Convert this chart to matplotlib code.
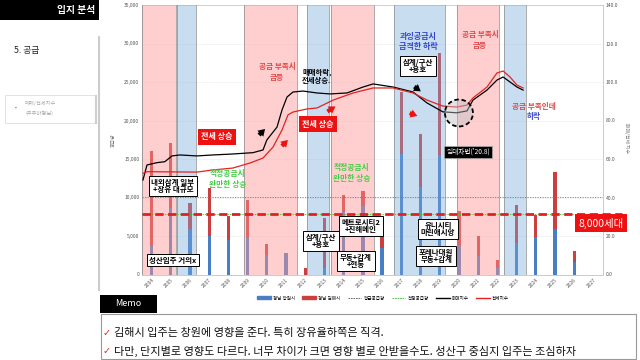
import numpy as np
import matplotlib
matplotlib.use("Agg")
import matplotlib.pyplot as plt
from matplotlib.patches import Rectangle, Ellipse, FancyArrowPatch
from matplotlib.lines import Line2D
from matplotlib.patches import Patch

plt.rcParams['font.family'] = ['Noto Sans CJK KR', 'DejaVu Sans']

# supply data (units), by year
years = list(range(2004, 2028))
total_supply = [16000, 17100, 9300, 11200, 7600, 9700, 3900, 2750, 880, 7400, 10300, 10850,
                5200, 23700, 18300, 28800, 8250, 5000, 1880, 9030, 7730, 13300, 3050, 0]
changwon = [3700, 8600, 5900, 4950, 4480, 4780, 2530, 2750, 0, 850, 8100, 8850,
            3400, 15700, 11400, 15500, 3830, 2400, 890, 4130, 4910, 5870, 1670, 0]
gimhae = [t - c for t, c in zip(total_supply, changwon)]

avg_supply = 10100
opt_supply = 7900

# price index (매매) and jeonse index (전세)
sale_t = [2004.05, 2004.26, 2004.78, 2005.19, 2005.56, 2005.97, 2006.86, 2007.69, 2008.73, 2009.78,
          2010.30, 2010.50, 2011.03, 2011.29, 2011.55, 2011.86, 2012.38, 2013.11, 2013.79, 2014.67,
          2015.51, 2016.03, 2017.07, 2018.11, 2018.84, 2019.66, 2020.39, 2020.92, 2021.23, 2021.96,
          2022.48, 2022.80, 2023.16, 2023.52, 2023.84]
sale_v = [49.1, 56.9, 58.1, 58.6, 61.6, 62.1, 61.6, 62.1, 62.6, 63.3,
          64.7, 69.9, 76.6, 85.5, 92.2, 94.8, 95.3, 94.3, 93.8, 94.3,
          97.4, 99.0, 97.4, 94.8, 89.1, 84.5, 84.0, 85.0, 90.6, 95.8,
          101.0, 102.6, 100.0, 97.4, 95.8]
jeonse_t = [2004.05, 2004.26, 2006.86, 2007.69, 2008.73, 2009.62, 2010.30, 2010.82, 2011.29, 2011.60,
            2011.86, 2012.59, 2013.11, 2013.95, 2014.99, 2016.03, 2017.07, 2018.11, 2018.84, 2019.66,
            2020.39, 2020.92, 2021.23, 2021.96, 2022.48, 2022.80, 2023.16, 2023.52, 2023.84]
jeonse_v = [52.6, 53.4, 53.2, 54.3, 55.3, 57.9, 60.5, 66.2, 75.1, 82.9,
            84.4, 86.0, 86.5, 90.6, 94.3, 96.9, 96.9, 94.3, 90.6, 87.5,
            87.0, 88.0, 91.7, 97.4, 104.7, 105.7, 102.6, 98.4, 96.9]

# shaded periods (start, end in year-index units) : shortage = pink, oversupply = blue
pink_spans = [(-0.5, 1.25), (4.8, 7.55), (9.33, 11.58), (15.9, 18.1)]
blue_spans = [(1.3, 2.3), (8.1, 9.25), (12.6, 15.3), (18.35, 19.5)]

C_BLUE = "#4a7ec4"
C_RED = "#cc3f3f"

fig = plt.figure(figsize=(6.4, 3.6), dpi=100)
W, H = 640, 360

def fx(x):
    return x / W

def fy(y):
    return 1 - y / H

ax = fig.add_axes([fx(142), fy(274.5), (603 - 142) / W, (274.5 - 5) / H])
ax2 = ax.twinx()
ax.set_zorder(2)
ax2.set_zorder(1)
ax.patch.set_visible(False)

x = np.arange(len(years))
ax.bar(x, changwon, 0.17, color=C_BLUE, zorder=2)
ax.bar(x, gimhae, 0.17, bottom=changwon, color=C_RED, zorder=2)

for a, b in pink_spans:
    ax.axvspan(a, b, color=(1.0, 0.59, 0.59), alpha=0.45, lw=0, zorder=3)
    for e in (a, b):
        ax.axvline(e, color="#8a8a8a", lw=0.5, zorder=3)
for a, b in blue_spans:
    ax.axvspan(a, b, color=(0.47, 0.67, 0.86), alpha=0.4, lw=0, zorder=3)
    for e in (a, b):
        ax.axvline(e, color="#8a8a8a", lw=0.5, zorder=3)

ax.axhline(avg_supply, color="#777777", lw=0.6, ls=(0, (1.5, 1.5)), zorder=4)
ax.axhline(opt_supply, color="#33bb33", lw=0.6, ls=(0, (1.5, 1.5)), zorder=4)
ax.plot([-0.5, 24.5], [opt_supply, opt_supply], color="#e02020", lw=2.0,
        ls=(0, (3, 1.6)), zorder=5, clip_on=False)

ax.plot(np.array(sale_t) - 2004.5, np.array(sale_v) * 250, color="black", lw=0.9, zorder=6)
ax.plot(np.array(jeonse_t) - 2004.5, np.array(jeonse_v) * 250, color="#e32222", lw=0.9, zorder=6)

ax.set_xlim(-0.5, 23.5)
ax.set_ylim(0, 35000)
ax2.set_ylim(0, 140)
ax.set_yticks(np.arange(0, 35001, 5000))
ax.set_yticklabels([f"{v:,}" for v in range(0, 35001, 5000)])
ax2.set_yticks(np.arange(0, 141, 20))
ax2.set_yticklabels([f"{v:.1f}" for v in range(0, 141, 20)])
ax.set_xticks(x)
ax.set_xticklabels([str(y) for y in years], rotation=45, ha="right", rotation_mode="anchor")
for a in (ax, ax2):
    a.tick_params(length=0, labelsize=3.6, labelcolor="#555555", pad=2)
    for s in a.spines.values():
        s.set_color("#c8c8c8")
        s.set_linewidth(0.5)
ax.grid(axis="y", color="#eeeeee", lw=0.4, zorder=0)
ax.set_axisbelow(True)

fig.text(fx(113), fy(140), "공급량", rotation=90, fontsize=3.5, color="#777777", ha="center", va="center")
fig.text(fx(626), fy(138), "매매/전세 지수", rotation=270, fontsize=3.5, color="#777777", ha="center", va="center")

# annotations
def box_text(xi, yv, s, fs=5.4):
    ax.text(xi, yv, s, ha="center", va="center", fontsize=fs, fontweight="bold", zorder=8,
            linespacing=1.15, bbox=dict(boxstyle="square,pad=0.35", fc="white", ec="black", lw=0.7))

ax.text(6.53, 26300, "공급 부족시\n급등", color="#e04848", ha="center", va="center", fontsize=5.5,
        fontweight="bold", zorder=8, linespacing=1.2)
ax.text(7.83, 25780, "매매하락,\n전세상승.", color="black", ha="left", va="center", fontsize=5.3,
        fontweight="bold", zorder=8, linespacing=1.2)
ax.text(13.87, 30320, "과잉공급시\n급격한 하락", color="#3344cc", ha="center", va="center", fontsize=5.8,
        fontweight="bold", zorder=8, linespacing=1.15)
ax.text(17.10, 30450, "공급 부족시\n급등", color="#e04848", ha="center", va="center", fontsize=5.5,
        fontweight="bold", zorder=8, linespacing=1.2)
ax.text(19.91, 21880, "공급 부족인데", color="#e04848", ha="center", va="center", fontsize=5.5,
        fontweight="bold", zorder=8)
ax.text(19.91, 20455, "하락", color="#3344cc", ha="center", va="center", fontsize=5.5,
        fontweight="bold", zorder=8)
for xi, yv in [(3.97, 12400), (10.43, 13180)]:
    ax.text(xi, yv, "적정공급시\n완만한 상승", color="#44cc44", ha="center", va="center", fontsize=5.6,
            fontweight="bold", zorder=8, linespacing=1.2)

for xi, yv in [(8.66, 19545), (3.40, 17860)]:
    ax.text(xi, yv, "전세 상승", color="white", ha="center", va="center", fontsize=5.8, fontweight="bold",
            zorder=8, bbox=dict(boxstyle="square,pad=0.4", fc="#ee1111", ec="none"))

box_text(13.87, 27080, "삼계/구산\n+용호")
box_text(1.11, 11490, "내외삼계 일부\n+장유 대규모")
box_text(1.11, 1880, "성산입주 거의x")
box_text(8.82, 4350, "삼계/구산\n+용호")
box_text(10.9, 6300, "메트로시티2\n+진해메인")
box_text(10.64, 1750, "무동+감계\n+현동")
box_text(14.91, 5910, "유니시티\n마린애시앙")
box_text(14.81, 2400, "포레나대원\n무동+감계")

ax.text(16.48, 15910, "임대차법('20.8)", color="white", ha="center", va="center", fontsize=4.8,
        zorder=8, bbox=dict(boxstyle="square,pad=0.3", fc="black", ec="#aaaaaa", lw=0.5))
ax.text(23.4, 6690, "8,000세대", color="white", ha="center", va="center", fontsize=7.5,
        zorder=9, clip_on=False, bbox=dict(boxstyle="square,pad=0.3", fc="#ee1111", ec="none"))

ax.add_patch(Ellipse((16.0, 20975), 1.46, 3500, fc=(0.75, 0.75, 0.78, 0.45), ec="black", lw=1.3,
                     ls=(0, (2.5, 1.5)), zorder=7))

arrows = [((5.49, 17860), (6.01, 19155), "black"),
          ((6.68, 16430), (7.20, 17730), "#ee1111"),
          ((9.03, 20975), (9.70, 22015), "#ee1111"),
          ((13.56, 24610), (14.13, 23570), "black"),
          ((13.30, 21100), (13.97, 20455), "#ee1111")]
for p0, p1, c in arrows:
    ax.add_patch(FancyArrowPatch(p0, p1, arrowstyle="simple,head_width=1.0,head_length=0.8,tail_width=0.5",
                                 mutation_scale=6, color=c, lw=0, zorder=8))

handles = [Patch(color=C_BLUE, label="경남 창원시"), Patch(color=C_RED, label="경남 김해시"),
           Line2D([], [], color="#555555", lw=0.6, ls=(0, (2, 1)), label="평균공급량"),
           Line2D([], [], color="#33bb33", lw=0.6, ls=(0, (2, 1)), label="적정공급량"),
           Line2D([], [], color="black", lw=1.0, label="매매지수"),
           Line2D([], [], color="#e32222", lw=1.0, label="전세지수")]
fig.legend(handles=handles, loc="center", bbox_to_anchor=(fx(383), fy(298)), ncol=6, fontsize=3.3,
           frameon=False, handlelength=3.0, handleheight=0.6, columnspacing=1.5, handletextpad=0.5)

# slide decorations
fig.patches.append(Rectangle((0, fy(20)), fx(99), 20 / H, transform=fig.transFigure, fc="black", ec="none"))
fig.text(fx(95), fy(10), "입지 분석", color="white", fontsize=7, fontweight="bold", ha="right", va="center")
fig.text(fx(14), fy(50), "5. 공급", color="#222222", fontsize=6.3, ha="left", va="center")
fig.lines.append(Line2D([fx(99), fx(99)], [fy(37), fy(290)], transform=fig.transFigure,
                        color="#cccccc", lw=1.5))
fig.patches.append(Rectangle((fx(5), fy(123)), fx(90), 28 / H, transform=fig.transFigure,
                             fc="white", ec="#dddddd", lw=0.6))
fig.lines.append(Line2D([fx(95.5), fx(95.5)], [fy(123), fy(96)], transform=fig.transFigure,
                        color="#cfcfcf", lw=1.5))
fig.text(fx(16), fy(107), "•", color="#666666", fontsize=4, ha="center", va="center")
fig.text(fx(25), fy(104), "매매/전세지수", color="#aaaaaa", fontsize=3.8, ha="left", va="center")
fig.text(fx(25), fy(113), "(주주마병님)", color="#aaaaaa", fontsize=3.8, ha="left", va="center")

# memo
fig.patches.append(Rectangle((fx(100), fy(313)), fx(57), 18 / H, transform=fig.transFigure, fc="black", ec="none"))
fig.text(fx(128), fy(304), "Memo", color="white", fontsize=6.5, ha="center", va="center")
fig.patches.append(Rectangle((fx(101), fy(359)), fx(535), 45 / H, transform=fig.transFigure,
                             fc="white", ec="#999999", lw=0.8))
memo = ["김해시 입주는 창원에 영향을 준다. 특히 장유율하쪽은 직격.",
        "다만, 단지별로 영향도 다르다. 너무 차이가 크면 영향 별로 안받을수도. 성산구 중심지 입주는 조심하자"]
for i, line in enumerate(memo):
    yy = fy(333 + 18 * i)
    fig.text(fx(103), yy, "✓", color="#dd2222", fontsize=7, ha="left", va="center", family="DejaVu Sans")
    fig.text(fx(114), yy, line, color="#111111", fontsize=8, fontweight="medium", ha="left", va="center")

fig.savefig("out.png", dpi=100)
